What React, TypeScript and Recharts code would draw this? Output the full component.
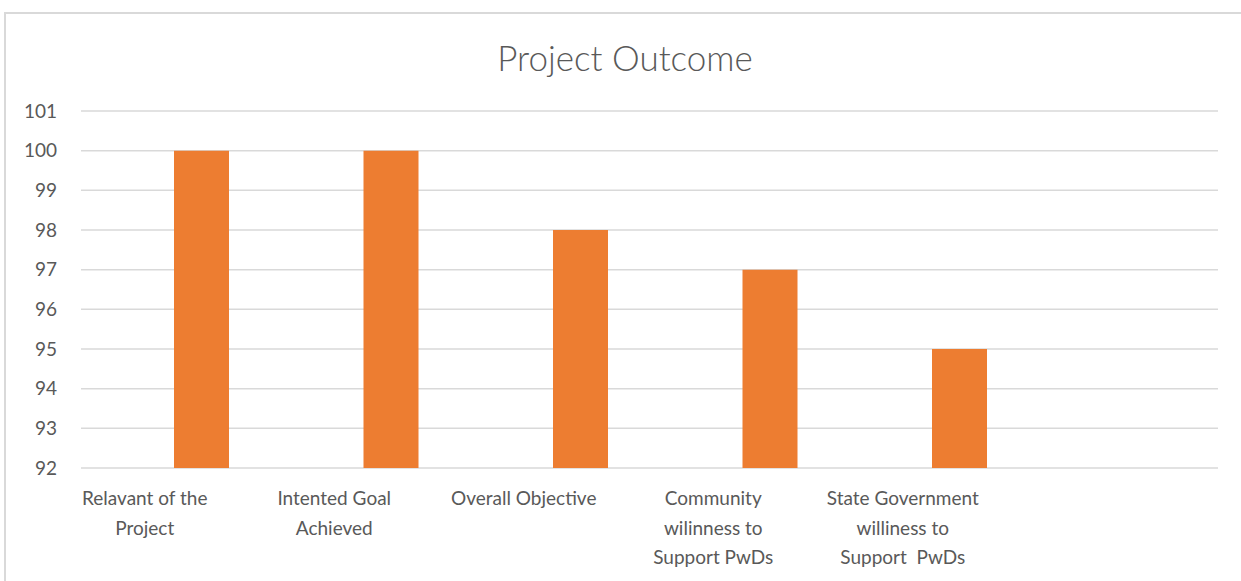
import React from 'react';
import { BarChart, Bar, XAxis, YAxis, CartesianGrid } from 'recharts';

// Category labels, line breaks as in the original chart
const categories = [
  'Relavant of the\nProject',
  'Intented Goal\nAchieved',
  'Overall Objective',
  'Community\nwilinness to\nSupport PwDs',
  'State Government\nwilliness to\nSupport  PwDs',
  '',
];
const outcomeValues = [100, 100, 98, 97, 95, null];
const yTicks = [92, 93, 94, 95, 96, 97, 98, 99, 100, 101];

const data = categories.map((name, i) => ({ name, value: outcomeValues[i] }));

const FONT = 'Lato, "Open Sans", sans-serif';
const TEXT = '#595959';
const GRID = '#d9d9d9';

// multi-line x tick, nudged left like the source image
const CategoryTick = (props: any) => {
  const { x, y, payload } = props;
  const lines = String(payload.value).split('\n');
  return (
    <text
      x={x - 57}
      y={y}
      textAnchor="middle"
      fill={TEXT}
      fontSize={19}
      fontFamily={FONT}
      style={{ whiteSpace: 'pre' }}
    >
      {lines.map((line, i) => (
        <tspan key={i} x={x - 57} dy={i === 0 ? 29 : 29.5}>
          {line}
        </tspan>
      ))}
    </text>
  );
};

export default function App() {
  return (
    <div style={{ position: 'absolute', left: 0, top: 0, width: 1241, height: 581, background: '#fff', overflow: 'hidden' }}>
      {/* chart frame */}
      <div
        style={{
          position: 'absolute',
          left: 4,
          top: 12,
          width: 1260,
          height: 600,
          borderLeft: `2px solid ${GRID}`,
          borderTop: `2px solid ${GRID}`,
        }}
      />
      <div
        style={{
          position: 'absolute',
          left: 4,
          width: 1242,
          top: 35,
          textAlign: 'center',
          fontFamily: FONT,
          fontSize: 35,
          fontWeight: 300,
          color: TEXT,
          lineHeight: '44px',
        }}
      >
        Project Outcome
      </div>
      <div style={{ position: 'absolute', left: 0, top: 0 }}>
        <BarChart
          width={1241}
          height={581}
          data={data}
          margin={{ top: 111, right: 23, bottom: 83, left: 0 }}
          barSize={55}
        >
          <CartesianGrid vertical={false} stroke={GRID} strokeWidth={1.5} />
          <XAxis
            dataKey="name"
            axisLine={false}
            tickLine={false}
            interval={0}
            height={30}
            padding={{ left: 26, right: -26 }}
            tick={<CategoryTick />}
          />
          <YAxis
            domain={[92, 101]}
            ticks={yTicks}
            width={81}
            axisLine={false}
            tickLine={false}
            tickSize={0}
            tickMargin={24}
            tick={{ fill: TEXT, fontSize: 19, fontFamily: FONT }}
          />
          <Bar dataKey="value" fill="#ED7D31" isAnimationActive={false} />
        </BarChart>
      </div>
    </div>
  );
}
